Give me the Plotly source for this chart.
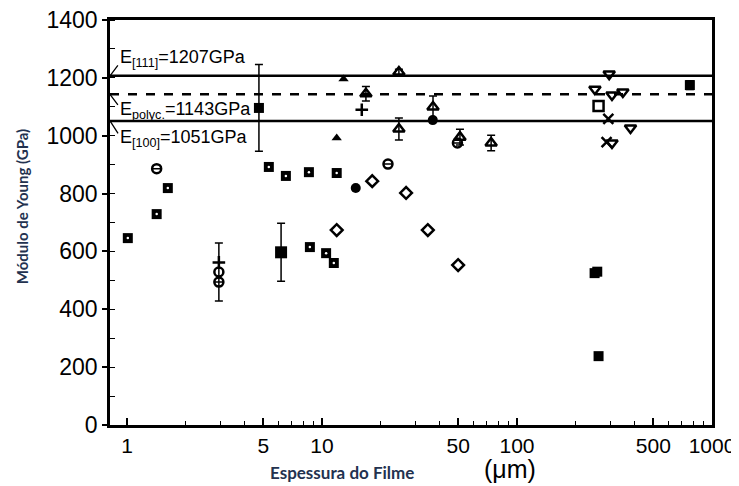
import plotly.graph_objects as go

# ---- data (thickness in µm, Young's modulus in GPa) ----
sqdot_x = [1.01, 1.42, 1.62, 5.34, 6.53, 8.57, 11.9, 8.67, 10.5, 11.5]
sqdot_y = [646, 729, 819, 892, 861, 874, 871, 615, 594, 560]

ocirc_x = [1.42, 2.96, 2.96, 21.8, 49.5]
ocirc_y = [886, 529, 494, 902, 975]
ocirc_err = [0, 100, 0, 0, 0]

odiam_x = [18.1, 27.0, 11.9, 34.9, 49.9]
odiam_y = [843, 802, 674, 674, 553]

fcirc_x = [14.9, 37.0]
fcirc_y = [819, 1054]

bigcirc_x = [4.75]
bigcirc_y = [1096]
bigcirc_err = [150]

fsq_x = [250, 258, 262, 770]
fsq_y = [525, 530, 238, 1175]
fsq_err = [0, 0, 0, 15]

errsq_x = [6.17]
errsq_y = [597]
errsq_err = [100]

ftri_x = [12.9, 11.9]
ftri_y = [1196, 992]

otri_x = [16.8, 24.8, 24.8, 37.1, 51.0, 73.7]
otri_y = [1145, 1220, 1023, 1099, 995, 975]
otri_err = [25, 10, 38, 38, 27, 27]

plus_x = [16.0, 2.96]
plus_y = [1090, 562]

dtri_x = [297, 251, 307, 349, 382, 307]
dtri_y = [1213, 1161, 1141, 1151, 1027, 975]

osq_x = [262]
osq_y = [1103]

xm_x = [294, 288]
xm_y = [1058, 978]

ref_vals = [1207, 1143, 1051]
ref_labels = ["E<sub>[111]</sub>=1207GPa", "E<sub>polyc.</sub>=1143GPa", "E<sub>[100]</sub>=1051GPa"]
ref_dash = ["solid", "dash", "solid"]
ref_shift = [17, -16, -18]
ref_arrow = [-12, 12, 14]

x_ticks = [1, 5, 10, 50, 100, 500, 1000]
x_minor = [2, 3, 4, 6, 7, 8, 9, 20, 30, 40, 60, 70, 80, 90, 200, 300, 400, 600, 700, 800, 900]
y_ticks = [0, 200, 400, 600, 800, 1000, 1200, 1400]

K = "black"
fig = go.Figure()

def errbar(vals):
    return dict(type="data", array=vals, visible=True, color=K, thickness=1.5, width=4)

fig.add_trace(go.Scatter(x=sqdot_x, y=sqdot_y, mode="markers",
                         marker=dict(symbol="square", size=10, color=K)))
fig.add_trace(go.Scatter(x=sqdot_x, y=sqdot_y, mode="markers",
                         marker=dict(symbol="circle", size=2.5, color="white")))
fig.add_trace(go.Scatter(x=ocirc_x, y=ocirc_y, mode="markers", error_y=errbar(ocirc_err),
                         marker=dict(symbol="circle-open", size=9, color=K, line=dict(width=2.5))))
fig.add_trace(go.Scatter(x=odiam_x, y=odiam_y, mode="markers",
                         marker=dict(symbol="diamond-open", size=9, color=K, line=dict(width=2.5))))
fig.add_trace(go.Scatter(x=fcirc_x, y=fcirc_y, mode="markers",
                         marker=dict(symbol="circle", size=10, color=K)))
fig.add_trace(go.Scatter(x=bigcirc_x, y=bigcirc_y, mode="markers", error_y=errbar(bigcirc_err),
                         marker=dict(symbol="square", size=10, color=K)))
fig.add_trace(go.Scatter(x=fsq_x, y=fsq_y, mode="markers", error_y=errbar(fsq_err),
                         marker=dict(symbol="square", size=10, color=K)))
fig.add_trace(go.Scatter(x=errsq_x, y=errsq_y, mode="markers", error_y=errbar(errsq_err),
                         marker=dict(symbol="square", size=12, color=K)))
fig.add_trace(go.Scatter(x=ftri_x, y=ftri_y, mode="markers",
                         marker=dict(symbol="triangle-up", size=9, color=K)))
fig.add_trace(go.Scatter(x=otri_x, y=otri_y, mode="markers", error_y=errbar(otri_err),
                         marker=dict(symbol="triangle-up-open", size=10, color=K, line=dict(width=2.5))))
fig.add_trace(go.Scatter(x=plus_x, y=plus_y, mode="markers",
                         marker=dict(symbol="cross-thin-open", size=9, color=K, line=dict(width=2.5))))
fig.add_trace(go.Scatter(x=dtri_x, y=dtri_y, mode="markers",
                         marker=dict(symbol="triangle-down-open", size=10, color=K, line=dict(width=2.5))))
fig.add_trace(go.Scatter(x=osq_x, y=osq_y, mode="markers",
                         marker=dict(symbol="square-open", size=10, color=K, line=dict(width=2.5))))
fig.add_trace(go.Scatter(x=xm_x, y=xm_y, mode="markers",
                         marker=dict(symbol="x-thin-open", size=10, color=K, line=dict(width=2.5))))

for v, lab, d, sh, ay in zip(ref_vals, ref_labels, ref_dash, ref_shift, ref_arrow):
    fig.add_hline(y=v, line=dict(color=K, width=2.5, dash=d))
    fig.add_annotation(x=0.014, xref="paper", y=v, yref="y", yshift=sh, text=lab,
                       showarrow=False, xanchor="left", yanchor="middle",
                       font=dict(family="Liberation Sans", size=18, color=K))
    fig.add_annotation(x=0, xref="paper", y=v, yref="y", text="", showarrow=True,
                       ax=9, ay=ay, arrowhead=0, arrowwidth=1.3, arrowcolor=K)

fig.add_annotation(x=-0.146, xref="paper", y=0.538, yref="paper", textangle=-90,
                   xanchor="center", yanchor="middle",
                   text="<b>Módulo de Young (GPa)</b>", showarrow=False,
                   font=dict(family="Lato", size=15, color="#23324f"))
fig.add_annotation(x=0.385, xref="paper", y=-0.1185, yref="paper",
                   xanchor="center", yanchor="middle",
                   text="<b>Espessura do Filme</b>", showarrow=False,
                   font=dict(family="Lato", size=17, color="#23324f"))
fig.add_annotation(x=0.664, xref="paper", y=-0.109, yref="paper",
                   xanchor="center", yanchor="middle",
                   text="(μm)", showarrow=False,
                   font=dict(family="Liberation Sans", size=25, color=K))

# page body adds an 8px offset; the figure is sized so the plot area sits where the reference's does
fig.update_layout(
    width=731, height=478, margin=dict(l=102, r=27, t=12, b=61, autoexpand=False),
    paper_bgcolor="white", plot_bgcolor="white", showlegend=False,
    xaxis=dict(type="log", range=[-0.087, 3.0], tickvals=x_ticks, automargin=False,
               ticktext=[str(t) for t in x_ticks], ticks="inside", ticklen=7,
               tickwidth=1.5, tickcolor=K, showgrid=False, zeroline=False,
               showline=True, linewidth=2.5, linecolor=K, mirror=True,
               ticklabeloverflow="allow",
               tickfont=dict(family="Liberation Sans", size=21, color=K),
               minor=dict(tickvals=x_minor, ticks="inside", ticklen=4, tickcolor=K, tickwidth=1)),
    yaxis=dict(range=[0, 1400], tickvals=y_ticks, ticks="outside", ticklen=5, automargin=False,
               tickwidth=1.5, tickcolor=K, showgrid=False, zeroline=False,
               showline=True, linewidth=2.5, linecolor=K, mirror=True,
               ticklabeloverflow="allow",
               tickfont=dict(family="Liberation Sans", size=23, color=K),
               minor=dict(dtick=100, ticks="inside", ticklen=5, tickcolor=K, tickwidth=1)),
)

fig.write_html("out.html")
